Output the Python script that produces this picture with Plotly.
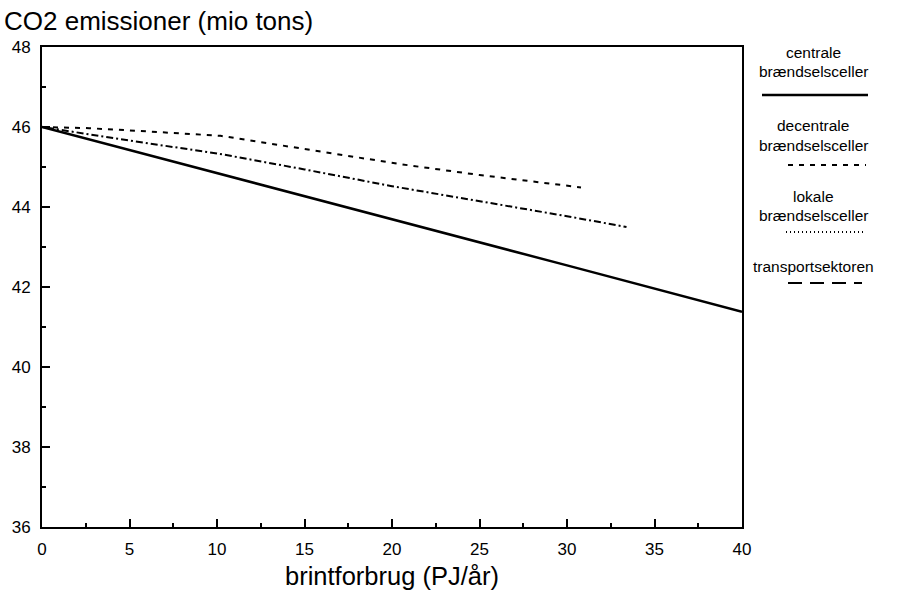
import plotly.graph_objects as go

# Data
x_central = [0, 10, 20, 30, 40]
y_central = [46.0, 44.85, 43.7, 42.54, 41.38]

x_decentral = [0, 2.7, 5.6, 10.2, 15, 20.5, 25, 30.8]
y_decentral = [46.0, 45.97, 45.9, 45.78, 45.45, 45.07, 44.8, 44.49]

x_lokal = [0, 5, 10, 15, 20, 25, 30, 33.4]
y_lokal = [46.0, 45.66, 45.34, 44.94, 44.52, 44.15, 43.77, 43.5]

x_transport = []
y_transport = []

legend_names = [["centrale", "brændselsceller"], ["decentrale", "brændselsceller"],
                ["lokale", "brændselsceller"], ["transportsektoren"]]

FONT = "Liberation Sans, Arial"

W, H = 910, 590
L, R, T, B = 42, 168, 47, 63
PW, PH = W - L - R, H - T - B


def px(xp):
    return (xp - L) / PW


def py(yp):
    return (H - B - yp) / PH


fig = go.Figure()
fig.add_trace(go.Scatter(x=x_central, y=y_central, mode="lines",
                         line=dict(color="black", width=2.5), showlegend=False))
fig.add_trace(go.Scatter(x=x_decentral, y=y_decentral, mode="lines",
                         line=dict(color="black", width=2, dash="5px,6px"), showlegend=False))
fig.add_trace(go.Scatter(x=x_lokal, y=y_lokal, mode="lines",
                         line=dict(color="black", width=2, dash="2px,3px,7px,3px"), showlegend=False))
fig.add_trace(go.Scatter(x=x_transport, y=y_transport, mode="lines",
                         line=dict(color="black", width=2, dash="14px,8px"), showlegend=False))

# custom legend (text above line sample)
legend_text_y = [[53, 71], [126, 145], [196, 215], [266]]
legend_line_y = [95, 165, 232, 283]
styles = [dict(dash="solid", width=2.5, x0=762, x1=868),
          dict(dash="5px,6px", width=2, x0=788, x1=866),
          dict(dash="1px,3px", width=2, x0=786, x1=866),
          dict(dash="14px,8px", width=2, x0=788, x1=862)]
annots = []
for names, tys, ly, st in zip(legend_names, legend_text_y, legend_line_y, styles):
    for nm, ty in zip(names, tys):
        annots.append(dict(x=px(813), y=py(ty), xref="paper", yref="paper",
                           text=nm, showarrow=False, xanchor="center", yanchor="middle",
                           font=dict(size=15.5, family=FONT, color="black")))
    fig.add_shape(type="line", xref="paper", yref="paper",
                  x0=px(st["x0"]), x1=px(st["x1"]), y0=py(ly), y1=py(ly),
                  line=dict(color="black", width=st["width"], dash=st["dash"]))

annots.append(dict(x=px(2), y=py(21), xref="paper", yref="paper",
                   text="CO2 emissioner (mio tons)",
                   showarrow=False, xanchor="left", yanchor="middle",
                   font=dict(size=26, family=FONT, color="black")))
annots.append(dict(x=px(392), y=py(576), xref="paper", yref="paper",
                   text="brintforbrug (PJ/år)",
                   showarrow=False, xanchor="center", yanchor="middle",
                   font=dict(size=25.5, family=FONT, color="black")))

fig.update_layout(
    width=W, height=H,
    margin=dict(l=L, r=R, t=T, b=B),
    plot_bgcolor="white", paper_bgcolor="white",
    font=dict(family=FONT, color="black", size=17),
    showlegend=False,
    annotations=annots,
)
fig.update_xaxes(range=[0, 40], tickvals=[0, 5, 10, 15, 20, 25, 30, 35, 40],
                 ticks="inside", ticklen=8, tickwidth=1.5, tickcolor="black",
                 minor=dict(tickvals=[2.5, 7.5, 12.5, 17.5, 22.5, 27.5, 32.5, 37.5],
                            ticks="inside", ticklen=4, tickcolor="black"),
                 showline=True, linecolor="black", linewidth=2, mirror=True,
                 showgrid=False, zeroline=False, ticklabelstandoff=6, automargin=False,
                 tickfont=dict(size=17))
fig.update_yaxes(range=[36, 48], tickvals=[36, 38, 40, 42, 44, 46, 48],
                 ticks="inside", ticklen=8, tickwidth=1.5, tickcolor="black",
                 minor=dict(tickvals=[37, 39, 41, 43, 45, 47],
                            ticks="inside", ticklen=4, tickcolor="black"),
                 showline=True, linecolor="black", linewidth=2, mirror=True,
                 showgrid=False, zeroline=False, ticklabelstandoff=6, automargin=False,
                 tickfont=dict(size=17))

fig.write_html("out.html")
